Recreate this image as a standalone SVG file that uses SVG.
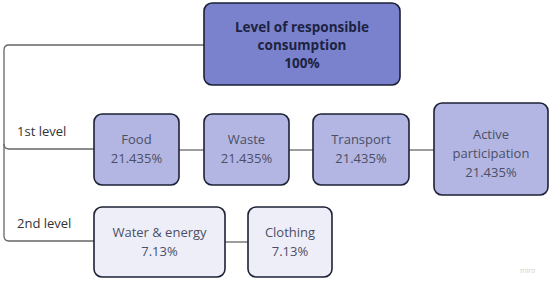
<svg xmlns="http://www.w3.org/2000/svg" width="550" height="282" viewBox="0 0 550 282">
<style>
.box{stroke:#1d2135;stroke-width:1.6}
.top{fill:#7a81cd}
.l1{fill:#b3b6e2}
.l2{fill:#eeeef8}
.t{font-family:"Open Sans","Noto Sans","Liberation Sans",sans-serif;font-size:13px;fill:#4b4f66;text-anchor:middle}
.tb{font-family:"Open Sans","Noto Sans","Liberation Sans",sans-serif;font-size:13.5px;font-weight:bold;fill:#1c2340;text-anchor:middle}
.lab{font-family:"Open Sans","Noto Sans","Liberation Sans",sans-serif;font-size:13px;fill:#333}
.c{fill:none;stroke:#666;stroke-width:1.3}
</style>
<rect width="550" height="282" fill="#ffffff"/>
<g id="connectors">
<path class="c" d="M204 45 H9 Q4 45 4 50 V236 Q4 241 9 241 H94"/>
<path class="c" d="M4 144 Q4 149 9 149 H94"/>
<path class="c" d="M179 150 H204"/>
<path class="c" d="M289 150 H313"/>
<path class="c" d="M409 150 H434"/>
<path class="c" d="M225 242 H248"/>
</g>
<g id="labels">
<text class="lab" x="17" y="136">1st level</text>
<text class="lab" x="17" y="228">2nd level</text>
</g>
<g id="root">
<rect class="box top" x="204" y="3" width="196" height="82" rx="8"/>
<text class="tb" x="302" y="32">Level of responsible</text>
<text class="tb" x="302" y="50">consumption</text>
<text class="tb" x="302" y="68">100%</text>
</g>
<g id="food">
<rect class="box l1" x="94" y="114" width="85" height="71" rx="8"/>
<text class="t" x="136.5" y="144">Food</text>
<text class="t" x="136.5" y="163">21.435%</text>
</g>
<g id="waste">
<rect class="box l1" x="204" y="114" width="85" height="71" rx="8"/>
<text class="t" x="246.5" y="144">Waste</text>
<text class="t" x="246.5" y="163">21.435%</text>
</g>
<g id="transport">
<rect class="box l1" x="313" y="114" width="96" height="71" rx="8"/>
<text class="t" x="361" y="144">Transport</text>
<text class="t" x="361" y="163">21.435%</text>
</g>
<g id="active">
<rect class="box l1" x="434" y="103" width="114" height="92" rx="8"/>
<text class="t" x="491" y="139">Active</text>
<text class="t" x="491" y="158">participation</text>
<text class="t" x="491" y="177">21.435%</text>
</g>
<g id="water">
<rect class="box l2" x="94" y="207" width="131" height="70" rx="8"/>
<text class="t" x="159.5" y="237">Water &amp; energy</text>
<text class="t" x="159.5" y="256">7.13%</text>
</g>
<g id="clothing">
<rect class="box l2" x="248" y="207" width="84" height="70" rx="8"/>
<text class="t" x="290" y="237">Clothing</text>
<text class="t" x="290" y="256">7.13%</text>
</g>
<text x="520" y="273" font-family="Open Sans, Liberation Sans, sans-serif" font-size="7" fill="#d0d0d0">miro</text>
</svg>
